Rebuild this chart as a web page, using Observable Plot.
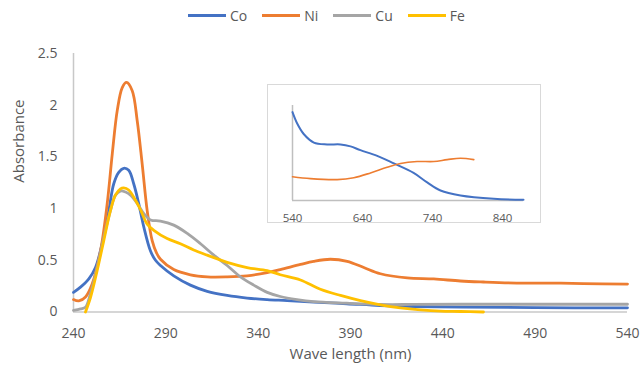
<!DOCTYPE html>
<html><head><meta charset="utf-8">
<script src="https://cdn.jsdelivr.net/npm/d3@7"></script>
<script src="https://cdn.jsdelivr.net/npm/@observablehq/plot@0.6"></script>
<style>
body{margin:0;background:#fff;font-family:"Open Sans",sans-serif;}
#wrap{position:relative;width:640px;height:371px;overflow:hidden;background:#fff;}
#legend{position:absolute;left:188px;top:0;height:30px;display:flex;align-items:center;font-size:14px;color:#595959;white-space:nowrap;}
#legend .sw{display:inline-block;width:38px;height:3px;margin-right:4px;}
#legend .lb{margin-right:15px;}
#main{position:absolute;left:0;top:30px;}
#insetBox{position:absolute;left:267px;top:84px;width:274px;height:139px;box-sizing:border-box;border:1px solid #d9d9d9;background:#fff;}
#inset{position:absolute;left:267px;top:84px;}
</style>
</head><body>
<div id="wrap">
  <div id="legend"></div>
  <div id="main"></div>
  <div id="insetBox"></div>
  <div id="inset"></div>
</div>
<script>
const seriesNames = ["Co", "Ni", "Cu", "Fe"];
const seriesColors = ["#4472C4", "#ED7D31", "#A5A5A5", "#FFC000"];
const xTicks = [240, 290, 340, 390, 440, 490, 540];
const yTicks = [0, 0.5, 1, 1.5, 2, 2.5];
const insetTicks = [540, 640, 740, 840];

const coNm  = [240, 243.8, 248.3, 251.9, 255.5, 259.1, 261.8, 264.5, 267.2, 269.9, 272.6, 275.3, 278.1, 281.7, 284.4, 287.1, 294.3, 303.3, 312.4, 323.2, 334, 344.9, 355.7, 370, 388, 406, 424, 450, 490, 540];
const coAbs = [0.19, 0.24, 0.32, 0.43, 0.66, 0.98, 1.24, 1.35, 1.39, 1.37, 1.24, 1.05, 0.82, 0.59, 0.50, 0.45, 0.35, 0.26, 0.20, 0.16, 0.135, 0.12, 0.11, 0.095, 0.08, 0.063, 0.053, 0.048, 0.042, 0.04];

const niNm  = [240, 242.9, 246.5, 250.1, 254.6, 258.2, 261, 263.7, 266.4, 268.7, 271.8, 274.5, 277.2, 279.9, 282.6, 285, 287.1, 294.3, 303.3, 312.4, 323.2, 334, 344.9, 352, 362.9, 370.1, 379.1, 388.2, 397.2, 406.2, 420.7, 435.1, 449.5, 462, 480, 498, 516, 540];
const niAbs = [0.12, 0.107, 0.145, 0.27, 0.59, 1.04, 1.53, 1.95, 2.17, 2.22, 2.14, 1.85, 1.43, 0.98, 0.69, 0.57, 0.51, 0.41, 0.36, 0.34, 0.34, 0.35, 0.38, 0.41, 0.46, 0.49, 0.51, 0.49, 0.43, 0.37, 0.33, 0.32, 0.30, 0.29, 0.28, 0.28, 0.275, 0.27];

const cuNm  = [240, 243.8, 246.5, 249.2, 252.8, 256.4, 260, 262.7, 265.4, 268.2, 270.9, 274.5, 278.1, 281.7, 287.1, 294.3, 301.6, 308.8, 316, 323.2, 330.4, 337.6, 344.9, 352, 361, 370, 388, 406, 424, 450, 490, 540];
const cuAbs = [0.015, 0.03, 0.047, 0.18, 0.43, 0.72, 0.98, 1.13, 1.17, 1.16, 1.13, 1.05, 0.95, 0.89, 0.88, 0.84, 0.76, 0.66, 0.55, 0.45, 0.34, 0.26, 0.19, 0.15, 0.12, 0.10, 0.085, 0.073, 0.073, 0.075, 0.075, 0.075];

const feNm  = [246.5, 249.2, 252.8, 256.4, 260, 262.7, 265.4, 267.2, 269.9, 273.6, 276.5, 279.9, 283.5, 290.7, 297.9, 305.1, 312.4, 323.2, 334, 344.9, 352, 362.9, 373.7, 384.6, 395.4, 406.2, 417, 427.9, 438.7, 449.5, 462];
const feAbs = [0.0, 0.14, 0.40, 0.69, 0.98, 1.13, 1.19, 1.20, 1.18, 1.08, 0.98, 0.85, 0.79, 0.71, 0.66, 0.60, 0.55, 0.48, 0.43, 0.40, 0.36, 0.31, 0.22, 0.16, 0.11, 0.07, 0.04, 0.02, 0.008, 0.005, 0.0];

// inset (relative absorbance, arbitrary units)
const coInsetNm  = [540, 546.7, 556, 570.5, 589.5, 608.6, 622.9, 637, 661, 684.8, 713, 732.4, 751.4, 780, 827.6, 870];
const coInsetVal = [0.93, 0.81, 0.70, 0.61, 0.59, 0.59, 0.57, 0.53, 0.47, 0.39, 0.29, 0.19, 0.105, 0.053, 0.018, 0.007];
const niInsetNm  = [540, 565.7, 603.8, 627.6, 651.4, 675.2, 694.3, 718, 741.9, 761, 780, 799];
const niInsetVal = [0.25, 0.23, 0.22, 0.24, 0.29, 0.35, 0.39, 0.41, 0.41, 0.43, 0.445, 0.43];

// legend
const legend = document.getElementById("legend");
seriesNames.forEach((n, i) => {
  const sw = document.createElement("span"); sw.className = "sw"; sw.style.background = seriesColors[i];
  const lb = document.createElement("span"); lb.className = "lb"; lb.textContent = n;
  legend.appendChild(sw); legend.appendChild(lb);
});

const zip = (xs, ys) => xs.map((x, i) => ({nm: x, v: ys[i]}));
const mainSeries = [zip(coNm, coAbs), zip(niNm, niAbs), zip(cuNm, cuAbs), zip(feNm, feAbs)];

const axisColor = "#c8c8c8";
const main = Plot.plot({
  width: 640, height: 341,
  marginLeft: 73, marginRight: 13, marginTop: 23, marginBottom: 59.5,
  x: {domain: [240, 540]},
  y: {domain: [0, 2.5]},
  style: {fontFamily: "Open Sans", fontSize: "14px", color: "#595959", background: "transparent"},
  marks: [
    Plot.axisX({ticks: xTicks, tickSize: 0, tickPadding: 16, label: null, tickFormat: d => String(d)}),
    Plot.axisY({ticks: yTicks, tickSize: 0, tickPadding: 16, label: null, tickFormat: d => String(d)}),
    Plot.ruleY([0], {stroke: axisColor, strokeWidth: 1.5}),
    Plot.ruleX([240], {stroke: axisColor, strokeWidth: 1.5}),
    ...mainSeries.map((d, i) => Plot.line(d, {x: "nm", y: "v", stroke: seriesColors[i], strokeWidth: 2.8, curve: "catmull-rom"})),
    Plot.text(["Wave length (nm)"], {text: d => d, frameAnchor: "bottom", dy: 46.5, fontSize: 15, fill: "#595959"}),
    Plot.text(["Absorbance"], {text: d => d, frameAnchor: "left", dx: -54, rotate: -90, fontSize: 15, fill: "#595959"})
  ]
});
document.getElementById("main").appendChild(main);

const inset = Plot.plot({
  width: 274, height: 150,
  marginLeft: 25, marginRight: 18, marginTop: 21, marginBottom: 34,
  x: {domain: [540, 870]},
  y: {domain: [0, 1], axis: null},
  style: {fontFamily: "Open Sans", fontSize: "11.5px", color: "#595959", background: "transparent"},
  marks: [
    Plot.axisX({ticks: insetTicks, tickSize: 0, tickPadding: 13, label: null, tickFormat: d => String(d)}),
    Plot.ruleY([0], {stroke: "#bfbfbf", strokeWidth: 1.5}),
    Plot.ruleX([540], {stroke: "#bfbfbf", strokeWidth: 1.5}),
    Plot.line(zip(coInsetNm, coInsetVal), {x: "nm", y: "v", stroke: seriesColors[0], strokeWidth: 2, curve: "catmull-rom"}),
    Plot.line(zip(niInsetNm, niInsetVal), {x: "nm", y: "v", stroke: seriesColors[1], strokeWidth: 1.6, curve: "catmull-rom"})
  ]
});
document.getElementById("inset").appendChild(inset);
</script>
</body></html>
